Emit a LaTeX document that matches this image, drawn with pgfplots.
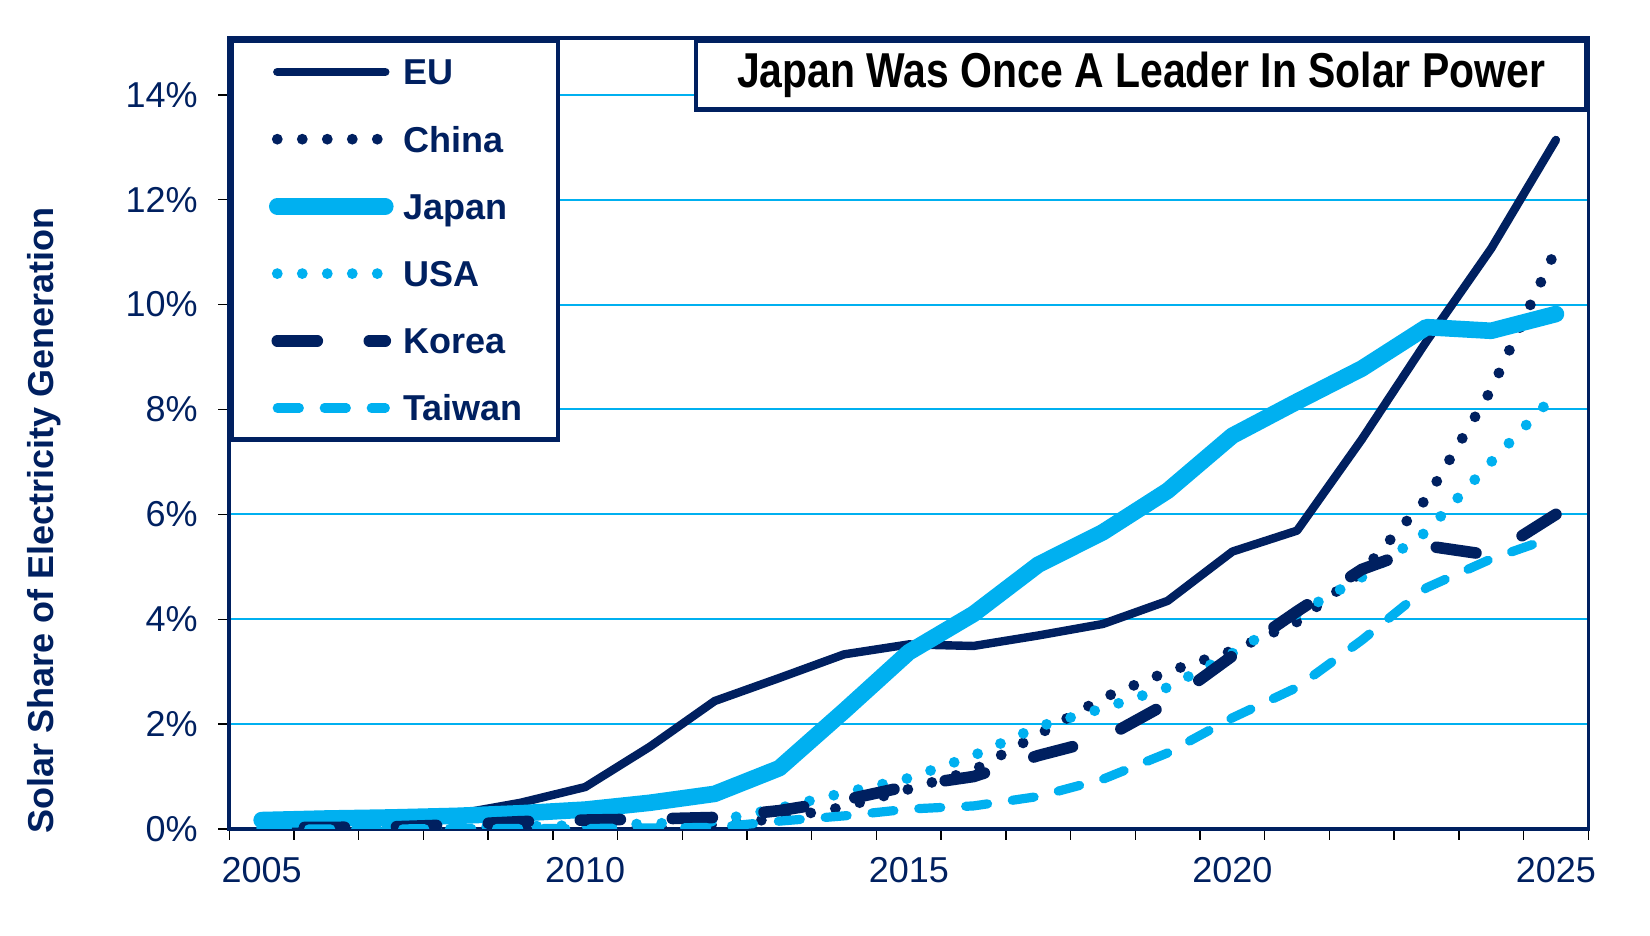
\documentclass[border=0pt]{standalone}
\usepackage{fontspec}
\setmainfont{Liberation Sans}
\newfontfamily\titlefont[FakeStretch=0.835]{Liberation Sans}
\usepackage{pgfplots}
\usepackage{pgfplotstable}
\pgfplotsset{compat=1.18}
\definecolor{navy}{RGB}{0,32,96}
\definecolor{lblue}{RGB}{0,176,240}

\pgfplotstableread{
year EU China Japan USA Korea Taiwan
2005 0.10 0.00 0.17 0.02 0.03 0.00
2006 0.13 0.00 0.20 0.02 0.03 0.00
2007 0.17 0.00 0.22 0.03 0.04 0.00
2008 0.28 0.00 0.25 0.04 0.08 0.01
2009 0.50 0.00 0.30 0.05 0.14 0.01
2010 0.80 0.02 0.37 0.07 0.17 0.01
2011 1.57 0.02 0.50 0.10 0.19 0.02
2012 2.44 0.08 0.67 0.15 0.22 0.03
2013 2.88 0.20 1.16 0.40 0.35 0.15
2014 3.33 0.42 2.25 0.69 0.55 0.25
2015 3.52 0.76 3.37 0.97 0.82 0.38
2016 3.49 1.12 4.10 1.40 1.00 0.44
2017 3.69 1.80 5.04 1.95 1.40 0.62
2018 3.91 2.50 5.66 2.30 1.72 0.95
2019 4.35 3.00 6.45 2.70 2.40 1.45
2020 5.29 3.40 7.50 3.35 3.30 2.12
2021 5.69 3.95 8.15 4.10 4.15 2.70
2022 7.43 4.90 8.78 4.80 4.95 3.60
2023 9.30 6.30 9.57 5.67 5.40 4.60
2024 11.07 8.38 9.50 7.00 5.22 5.15
2025 13.14 11.05 9.82 8.30 6.00 5.58
}\data

% Korea listed from 2025 back to 2005, so that its dash pattern starts at 2025
\pgfplotstableread{
year Korea
2025 6.00
2024 5.22
2023 5.40
2022 4.95
2021 4.15
2020 3.30
2019 2.40
2018 1.72
2017 1.40
2016 1.00
2015 0.82
2014 0.55
2013 0.35
2012 0.22
2011 0.19
2010 0.17
2009 0.14
2008 0.08
2007 0.04
2006 0.03
2005 0.03
}\korea

\begin{document}
\begin{tikzpicture}
\path[use as bounding box] (0,0) rectangle (825pt,468pt);
\begin{axis}[
  at={(114.65pt,53.5pt)}, anchor=south west,
  scale only axis, width=679.5pt, height=395.4pt,
  xmin=2004.5, xmax=2025.5, ymin=0, ymax=15.08,
  xtick={2005,2010,2015,2020,2025},
  xticklabels={2005,2010,2015,2020,2025},
  minor xtick={2004.5,2005.5,...,2025.5},
  ytick={0,2,...,14},
  yticklabels={0\%,2\%,4\%,6\%,8\%,10\%,12\%,14\%},
  xtick pos=bottom, ytick pos=left,
  tick align=outside,
  major tick length=5.5pt,
  minor tick length=5.3pt,
  major x tick style={draw=none},
  tick style={black, line width=0.7pt},
  axis line style={navy, line width=1.8pt},
  ymajorgrids,
  grid style={lblue, line width=1pt},
  ticklabel style={font=\fontsize{18}{20}\selectfont, text=navy},
  yticklabel style={xshift=-6.8pt},
  xticklabel style={yshift=-5.3pt},
  ylabel={Solar Share of Electricity Generation},
  ylabel style={at={(rel axis cs:-0.1364,0.39)}, anchor=center,
    font=\fontsize{18}{20}\selectfont\bfseries, text=navy},
  legend style={at={(0,1)}, anchor=north west, draw=navy, line width=2.2pt,
    fill=white, inner xsep=17.5pt, inner ysep=7.3pt, row sep=16.6pt, column sep=4.9pt,
    font=\fontsize{18}{20}\selectfont\bfseries, text=navy,
    nodes={inner sep=0pt, text height=15pt, text depth=2pt}},
  legend cell align=left,
  legend image code/.code={\path (0pt,0pt); \draw[#1] (1.25pt,0pt) -- (55.25pt,0pt);},
]
\addplot[navy, line width=4.2pt, line cap=round, line join=round] table[x=year,y=EU] {\data};
\addlegendentry{EU}
\addplot[navy, line width=5.4pt, line cap=round, dash pattern=on 0pt off 12.5pt] table[x=year,y=China] {\data};
\addlegendentry{China}
\addplot[lblue, line width=8.3pt, line cap=round, line join=round] table[x=year,y=Japan] {\data};
\addlegendentry{Japan}
\addplot[lblue, line width=5.4pt, line cap=round, dash pattern=on 0pt off 12.5pt] table[x=year,y=USA] {\data};
\addlegendentry{USA}
\addplot[navy, line width=5.8pt, line cap=round, line join=round, dash pattern=on 20pt off 26pt] table[x=year,y=Korea] {\korea};
\addlegendentry{Korea}
\addplot[lblue, line width=4.6pt, line cap=round, line join=round, dash pattern=on 11pt off 12.5pt] table[x=year,y=Taiwan] {\data};
\addlegendentry{Taiwan}
\node[draw=navy, line width=2.2pt, fill=white, anchor=north east, minimum width=445pt,
  minimum height=34.5pt, inner sep=0pt, text=black,
  font=\titlefont\bfseries\fontsize{24.5}{26}\selectfont] at (rel axis cs:1,1)
  {Japan Was Once A Leader In Solar Power};
\end{axis}
\end{tikzpicture}
\end{document}
